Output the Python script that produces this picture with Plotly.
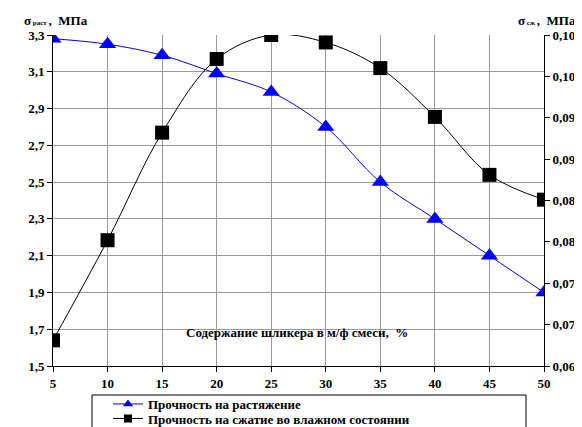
import plotly.graph_objects as go

content = [5, 10, 15, 20, 25, 30, 35, 40, 45, 50]
tensile = [3.28, 3.25, 3.19, 3.09, 2.99, 2.80, 2.50, 2.30, 2.10, 1.90]
compress = [0.0631, 0.0752, 0.0882, 0.0971, 0.1000, 0.0991, 0.0960, 0.0901, 0.0831, 0.0801]

y2_vals = [0.060, 0.065, 0.070, 0.075, 0.080, 0.085, 0.090, 0.095, 0.100]
y2_text = ["0,06", "0,07", "0,07", "0,08", "0,08", "0,09", "0,09", "0,10", "0,10"]

name1 = "Прочность на растяжение"
name2 = "Прочность на сжатие во влажном состоянии"
x_title = "Содержание шликера в м/ф смеси,  %"

FONT = "Liberation Serif"
FS = 13
OFF = 8  # default page body margin
W, H = 582 - OFF, 427 - OFF
# plot area in reference (window) pixels: x 53..544, y 35..366
L, R, T, B = 53 - OFF, 582 - 544, 35 - OFF, 427 - 366
pw, ph = W - L - R, H - T - B


def px(x):
    return (x - OFF - L) / pw


def py(y):
    return (H - B - (y - OFF)) / ph


fig = go.Figure()
fig.add_trace(go.Scatter(
    x=content, y=tensile, name=name1, mode="lines+markers", showlegend=False,
    line=dict(color="#0000FF", width=1, shape="spline"),
    marker=dict(symbol="triangle-up", size=15, color="#0000FF"),
))
fig.add_trace(go.Scatter(
    x=content, y=compress, name=name2, mode="lines+markers", yaxis="y2", showlegend=False,
    line=dict(color="#000000", width=1, shape="spline"),
    marker=dict(symbol="square", size=14, color="#000000"),
))
# legend entries (smaller symbols, as in the reference)
fig.add_trace(go.Scatter(
    x=[None], y=[None], name=name1, mode="lines+markers", legend="legend",
    line=dict(color="#0000FF", width=1), marker=dict(symbol="triangle-up", size=9, color="#0000FF"),
))
fig.add_trace(go.Scatter(
    x=[None], y=[None], name=name2, mode="lines+markers", legend="legend2",
    line=dict(color="#000000", width=1), marker=dict(symbol="square", size=8, color="#000000"),
))

tickfont = dict(family=FONT, size=FS, color="black", weight="bold")
legfont = dict(family=FONT, size=FS, color="black", weight="bold")

fig.update_layout(
    width=W, height=H,
    margin=dict(l=L, r=R, t=T, b=B, pad=0, autoexpand=False),
    paper_bgcolor="white", plot_bgcolor="white",
    separators=", ",
    showlegend=True,
    font=dict(family=FONT, size=FS, color="black"),
    xaxis=dict(
        range=[5, 50], tick0=5, dtick=5, showgrid=True, gridcolor="#999999", gridwidth=1,
        showline=True, linecolor="black", linewidth=1, ticks="outside", ticklen=5,
        tickcolor="black", tickfont=tickfont, zeroline=False, automargin=False,
    ),
    yaxis=dict(
        range=[1.5, 3.3], tick0=1.5, dtick=0.2, tickformat=".1f", showgrid=True,
        gridcolor="#999999", gridwidth=1, showline=True, linecolor="black", linewidth=1,
        ticks="outside", ticklen=5, tickcolor="black", tickfont=tickfont, zeroline=False,
        automargin=False,
    ),
    yaxis2=dict(
        range=[0.06, 0.10], overlaying="y", side="right", tickvals=y2_vals, ticktext=y2_text,
        showgrid=False, showline=True, linecolor="black", linewidth=1,
        ticks="outside", ticklen=5, tickcolor="black", tickfont=tickfont, zeroline=False,
        automargin=False,
    ),
    legend=dict(
        x=px(108), y=py(404), xanchor="left", yanchor="middle",
        bgcolor="rgba(0,0,0,0)", borderwidth=0, font=legfont,
    ),
    legend2=dict(
        x=px(108), y=py(418.5), xanchor="left", yanchor="middle",
        bgcolor="rgba(0,0,0,0)", borderwidth=0, font=legfont,
    ),
    shapes=[
        dict(type="rect", xref="paper", yref="paper", layer="between",
             x0=px(160), x1=px(440), y0=py(355), y1=py(330),
             fillcolor="white", line=dict(width=0)),
        dict(type="rect", xref="paper", yref="paper", layer="above",
             x0=px(92), x1=px(526), y0=py(440), y1=py(395),
             fillcolor="rgba(0,0,0,0)", line=dict(color="black", width=1)),
    ],
    annotations=[
        dict(text=x_title, xref="paper", yref="paper", x=px(297), y=py(342),
             showarrow=False, font=dict(family=FONT, size=FS, color="black", weight="bold")),
        dict(text="σ<span style='font-size:7px'> раст </span>,  МПа", xref="paper", yref="paper",
             x=px(22), y=py(20), xanchor="left", yanchor="middle", showarrow=False,
             font=dict(family=FONT, size=FS, color="black", weight="bold")),
        dict(text="σ<span style='font-size:7px'> сж </span>,  МПа", xref="paper", yref="paper",
             x=px(578), y=py(20), xanchor="right", yanchor="middle", showarrow=False,
             font=dict(family=FONT, size=FS, color="black", weight="bold")),
    ],
)

fig.write_html("out.html")
